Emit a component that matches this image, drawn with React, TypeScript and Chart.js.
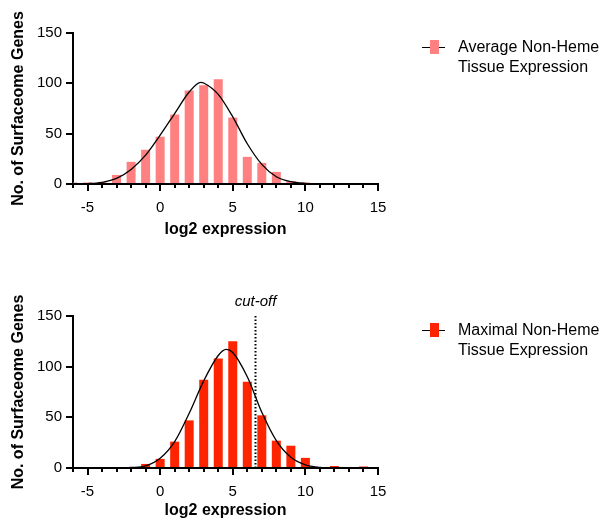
import React, { useEffect, useRef } from 'react';
import { Chart, registerables } from 'chart.js';

Chart.register(...registerables);

const FONT = '"Liberation Sans", Arial, Helvetica, sans-serif';

// axis ranges / ticks
const xMin = -6;
const xMax = 15;
const xMajorStep = 5;
const yMin = 0;
const yMax = 150;
const yStep = 50;

// histogram bins (log2 expression, bin centres)
const binCenters = [-6, -5, -4, -3, -2, -1, 0, 1, 2, 3, 4, 5, 6, 7, 8, 9, 10, 11, 12, 13, 14];
const avgCounts = [1.5, 1.5, 2, 9, 22, 34, 47, 69, 93, 98, 104, 66, 27, 21, 12, 3, 1.5, 0, 0, 0, 0];
const maxCounts = [0, 0, 0, 0, 0, 4, 9, 26, 47, 87, 108, 125, 85, 52, 27, 22, 10, 0, 2, 0, 1.5];

// fitted curves
const avgFitX = [-6, -5, -4, -3, -2, -1, 0, 1, 2, 2.8, 3, 4, 5, 6, 7, 8, 9, 10, 11, 12, 15];
const avgFitY = [0.1, 0.4, 1.7, 5.6, 14.5, 28.7, 48.5, 70, 91.4, 101, 100.3, 89, 66.7, 40, 19.5, 7.2, 2.3, 0.6, 0.1, 0, 0];
const maxFitX = [-6, -3, -2, -1, 0, 1, 2, 3, 4, 4.55, 5, 6, 7, 8, 9, 10, 11, 12, 13, 15];
const maxFitY = [0, 0.1, 0.5, 2, 9.5, 26, 54, 86, 111, 117, 114, 90, 55, 27, 10.5, 3, 0.7, 0.1, 0, 0];

const cutoffValue = 6.5;
const cutoffLabel = 'cut-off';

const xTitle = 'log2 expression';
const yTitle = 'No. of Surfaceome Genes';
const avgLegend = ['Average Non-Heme', 'Tissue Expression'];
const maxLegend = ['Maximal Non-Heme', 'Tissue Expression'];

const avgColor = '#FF8080';
const maxColor = '#FF2400';

type HistProps = {
  counts: number[];
  fitX: number[];
  fitY: number[];
  color: string;
  height: number;
  plotTop: number;
  axisHeight: number;
  bottomPad: number;
  titlePadBottom: number;
  cutoff?: number;
};

function Histogram({ counts, fitX, fitY, color, height, plotTop, axisHeight, bottomPad, titlePadBottom, cutoff }: HistProps) {
  const ref = useRef<HTMLCanvasElement>(null);

  useEffect(() => {
    if (!ref.current) return;
    const decor = {
      id: 'decor',
      afterDraw(chart: any) {
        const { ctx } = chart;
        const xs = chart.scales.x;
        const ys = chart.scales.y;
        ctx.save();
        ctx.strokeStyle = '#000';
        ctx.lineWidth = 2;
        for (let v = xMin; v <= xMax; v++) {
          if (v % xMajorStep === 0) continue;
          const px = Math.round(xs.getPixelForValue(v));
          ctx.beginPath();
          ctx.moveTo(px, ys.bottom);
          ctx.lineTo(px, ys.bottom + 4);
          ctx.stroke();
        }
        if (cutoff !== undefined) {
          const px = Math.round(xs.getPixelForValue(cutoff)) + 0.5;
          ctx.setLineDash([1.5, 2]);
          ctx.lineWidth = 2;
          ctx.beginPath();
          ctx.moveTo(px, ys.getPixelForValue(yMax));
          ctx.lineTo(px, ys.getPixelForValue(0));
          ctx.stroke();
          ctx.setLineDash([]);
          ctx.fillStyle = '#000';
          ctx.font = `italic 15px ${FONT}`;
          ctx.textAlign = 'center';
          ctx.textBaseline = 'middle';
          ctx.fillText(cutoffLabel, px, ys.top - 14);
        }
        ctx.restore();
      },
    };

    const chart = new Chart(ref.current, {
      type: 'bar',
      data: {
        datasets: [
          {
            type: 'line',
            data: fitX.map((x, i) => ({ x, y: fitY[i] })),
            borderColor: '#000',
            borderWidth: 1.3,
            pointRadius: 0,
            cubicInterpolationMode: 'monotone',
            order: 1,
          } as any,
          {
            type: 'bar',
            data: binCenters.map((x, i) => ({ x, y: counts[i] })),
            backgroundColor: color,
            barPercentage: 0.62,
            categoryPercentage: 1,
            order: 2,
          } as any,
        ],
      },
      options: {
        animation: false,
        responsive: false,
        maintainAspectRatio: false,
        layout: { padding: { left: 0, right: 227, top: plotTop, bottom: bottomPad } },
        plugins: { legend: { display: false }, tooltip: { enabled: false } },
        scales: {
          x: {
            type: 'linear',
            min: xMin,
            max: xMax,
            offset: false,
            grid: {
              display: true,
              drawOnChartArea: false,
              drawTicks: true,
              tickLength: 7,
              lineWidth: 2,
              color: '#000',
              offset: false,
            },
            border: { display: true, color: '#000', width: 2 },
            ticks: {
              stepSize: xMajorStep,
              includeBounds: false,
              maxRotation: 0,
              padding: 8,
              color: '#000',
              font: { family: FONT, size: 15 },
            },
            title: {
              display: true,
              text: xTitle,
              color: '#000',
              font: { family: FONT, size: 16, weight: 'bold' },
              padding: { top: 0, bottom: titlePadBottom },
            },
            afterFit: (s: any) => {
              s.height = axisHeight;
            },
          },
          y: {
            min: yMin,
            max: yMax,
            grid: {
              display: true,
              drawOnChartArea: false,
              drawTicks: true,
              tickLength: 7,
              lineWidth: 2,
              color: '#000',
            },
            border: { display: true, color: '#000', width: 2 },
            ticks: {
              stepSize: yStep,
              padding: 4,
              color: '#000',
              font: { family: FONT, size: 15 },
            },
            title: {
              display: true,
              text: yTitle,
              color: '#000',
              font: { family: FONT, size: 16, weight: 'bold' },
              padding: { top: 9, bottom: 0 },
            },
            afterFit: (s: any) => {
              s.width = 73;
            },
          },
        },
      } as any,
      plugins: [decor],
    });
    return () => chart.destroy();
  }, []);

  return <canvas ref={ref} width={605} height={height} style={{ display: 'block', width: 605, height }} />;
}

function LegendItem({ top, color, lines }: { top: number; color: string; lines: string[] }) {
  return (
    <div style={{ position: 'absolute', left: 0, top, width: 605, height: 50 }}>
      <div style={{ position: 'absolute', left: 422, top: 10, width: 23, height: 1, background: '#000' }} />
      <div style={{ position: 'absolute', left: 430, top: 3, width: 9, height: 14, background: color }} />
      <div
        style={{
          position: 'absolute',
          left: 458,
          top: 0,
          fontFamily: FONT,
          fontSize: 16,
          lineHeight: '20px',
          color: '#000',
          whiteSpace: 'nowrap',
        }}
      >
        {lines.map((l, i) => (
          <div key={i}>{l}</div>
        ))}
      </div>
    </div>
  );
}

export default function App() {
  return (
    <div style={{ position: 'absolute', left: 0, top: 0, width: 605, height: 520, background: '#fff', overflow: 'hidden' }}>
      <div style={{ position: 'absolute', left: 0, top: 0 }}>
        <Histogram
          counts={avgCounts}
          fitX={avgFitX}
          fitY={avgFitY}
          color={avgColor}
          height={260}
          plotTop={33}
          axisHeight={60}
          bottomPad={16}
          titlePadBottom={5}
        />
      </div>
      <div style={{ position: 'absolute', left: 0, top: 270 }}>
        <Histogram
          counts={maxCounts}
          fitX={maxFitX}
          fitY={maxFitY}
          color={maxColor}
          height={250}
          plotTop={46}
          axisHeight={52}
          bottomPad={0}
          titlePadBottom={0}
          cutoff={cutoffValue}
        />
      </div>
      <LegendItem top={37} color={avgColor} lines={avgLegend} />
      <LegendItem top={320} color={maxColor} lines={maxLegend} />
    </div>
  );
}
